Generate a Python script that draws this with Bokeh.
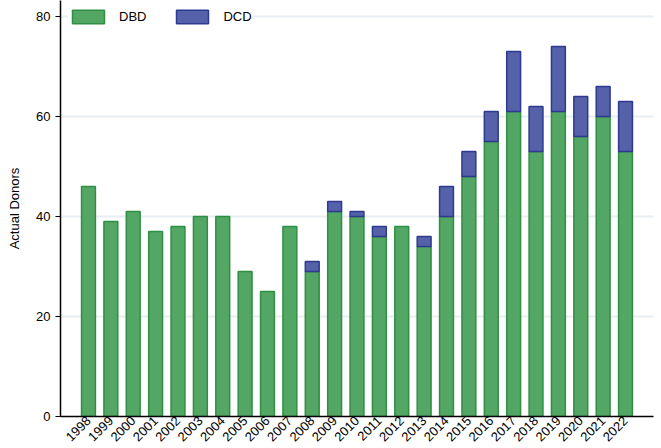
import math
from bokeh.plotting import figure
from bokeh.models import FactorRange, Range1d, ColumnDataSource, FixedTicker, Legend, LegendItem
from bokeh.embed import file_html
from bokeh.resources import INLINE

years = [str(y) for y in range(1998, 2023)]
dbd = [46, 39, 41, 37, 38, 40, 40, 29, 25, 38, 29, 41, 40, 36, 38, 34, 40, 48, 55, 61, 53, 61, 56, 60, 53]
dcd = [0, 0, 0, 0, 0, 0, 0, 0, 0, 0, 2, 2, 1, 2, 0, 2, 6, 5, 6, 12, 9, 13, 8, 6, 10]
y_ticks = [0, 20, 40, 60, 80]

src_dbd = ColumnDataSource(data=dict(year=years, top=dbd))
idx = [i for i, v in enumerate(dcd) if v > 0]
src_dcd = ColumnDataSource(data=dict(year=[years[i] for i in idx],
                                     bottom=[dbd[i] for i in idx],
                                     top=[dbd[i] + dcd[i] for i in idx]))

FONT = "Liberation Sans"

p = figure(width=661, height=448, output_backend="svg", toolbar_location=None,
           x_range=FactorRange(*years, range_padding=0.75, range_padding_units="absolute"),
           y_range=Range1d(0, 83.2),
           min_border_left=60, min_border_right=8, min_border_top=0, min_border_bottom=20)

r1 = p.vbar(x="year", top="top", bottom=0, width=0.62, source=src_dbd,
            fill_color="#53a663", line_color="#2f8f45", line_width=1.5)
r2 = p.vbar(x="year", top="top", bottom="bottom", width=0.62, source=src_dcd,
            fill_color="#5561a9", line_color="#2e3a8f", line_width=1.5)

p.outline_line_color = None
p.xgrid.grid_line_color = None
p.ygrid.grid_line_color = "#e8eef1"
p.ygrid.grid_line_width = 2
p.yaxis.ticker = FixedTicker(ticks=y_ticks)
p.yaxis.minor_tick_line_color = None
p.yaxis.major_tick_out = 5
p.yaxis.major_tick_in = 0
p.yaxis.major_tick_line_color = "black"
p.yaxis.axis_line_color = "black"
p.yaxis.axis_line_width = 1.5
p.yaxis.major_label_text_font = FONT
p.yaxis.major_label_text_font_size = "13px"
p.yaxis.major_label_text_color = "black"
p.yaxis.major_label_standoff = 5
p.yaxis.axis_label = "Actual Donors"
p.yaxis.axis_label_text_font = FONT
p.yaxis.axis_label_text_font_size = "13px"
p.yaxis.axis_label_text_font_style = "normal"
p.yaxis.axis_label_text_color = "black"
p.yaxis.axis_label_standoff = 11

p.xaxis.major_tick_line_color = None
p.xaxis.minor_tick_line_color = None
p.xaxis.axis_line_color = "black"
p.xaxis.axis_line_width = 1.5
p.xaxis.major_label_orientation = math.pi / 4
p.xaxis.major_label_text_font = FONT
p.xaxis.major_label_text_font_size = "13px"
p.xaxis.major_label_text_color = "black"
p.xaxis.major_label_standoff = -4

lg = Legend(items=[LegendItem(label="DBD", renderers=[r1]),
                   LegendItem(label="DCD", renderers=[r2])])
p.add_layout(lg)
lg.orientation = "horizontal"
lg.location = "top_left"
lg.margin = 8
lg.padding = 4
lg.glyph_width = 40
lg.glyph_height = 17
lg.label_height = 17
lg.label_standoff = 11
lg.spacing = 26
lg.border_line_color = None
lg.background_fill_color = "white"
lg.background_fill_alpha = 1
lg.label_text_font = FONT
lg.label_text_font_size = "13px"
lg.label_text_color = "black"

open("out.html", "w").write(file_html(p, INLINE))
